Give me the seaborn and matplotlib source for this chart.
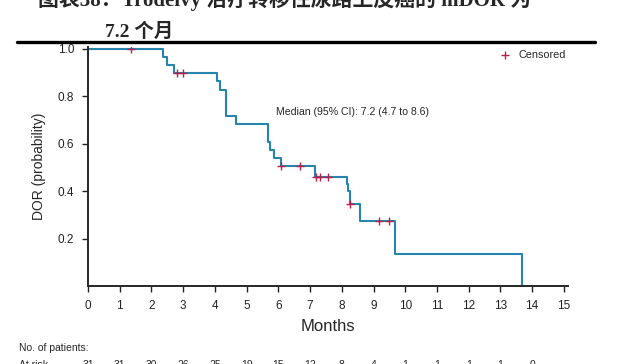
import numpy as np
import pandas as pd
import seaborn as sns
import matplotlib.pyplot as plt
from matplotlib.transforms import blended_transform_factory

# Kaplan-Meier curve (step points, steps-post)
km_time = [0.0, 2.37, 2.49, 2.70, 4.07, 4.15, 4.36, 4.67, 5.67, 5.74, 5.86,
           6.09, 7.17, 8.17, 8.20, 8.27, 8.58, 9.69, 13.67]
km_surv = [1.0, 0.965, 0.932, 0.900, 0.865, 0.828, 0.718, 0.683, 0.610, 0.575, 0.540,
           0.505, 0.462, 0.430, 0.400, 0.346, 0.276, 0.138, 0.0]

# censored observations
cens_time = [1.37, 2.79, 2.98, 6.09, 6.69, 7.20, 7.30, 7.58, 8.27, 9.17, 9.48]
cens_surv = [1.0, 0.900, 0.900, 0.505, 0.505, 0.462, 0.462, 0.462, 0.346, 0.276, 0.276]

months = list(range(0, 16))
at_risk = [31, 31, 30, 26, 25, 19, 15, 12, 8, 4, 1, 1, 1, 1, 0]

title_line1 = "图表38：Trodelvy 治疗转移性尿路上皮癌的 mDOR 为"
title_line2 = "7.2 个月"
median_text = "Median (95% CI): 7.2 (4.7 to 8.6)"

sns.set_style("ticks")
plt.rcParams["font.family"] = ["Liberation Sans", "DejaVu Sans"]

curve_color = "#2684ad"
cens_color = "#b5224a"

fig = plt.figure(figsize=(6.4, 3.64), dpi=100)
ax = fig.add_axes([0.1375, 0.213, 0.75, 0.658])

km = pd.DataFrame({"time": km_time, "surv": km_surv})
sns.lineplot(data=km, x="time", y="surv", drawstyle="steps-post",
             color=curve_color, linewidth=1.5, ax=ax)
cens = pd.DataFrame({"time": cens_time, "surv": cens_surv})
sns.scatterplot(data=cens, x="time", y="surv", marker="+", s=30,
                color=cens_color, linewidth=1.0, label="Censored", ax=ax, zorder=5)

ax.set_xlim(0, 15.13)
ax.set_ylim(0, 1.008)
ax.set_xticks(months)
ax.set_yticks([0.2, 0.4, 0.6, 0.8, 1.0])
ax.set_yticklabels(["0.2", "0.4", "0.6", "0.8", "1.0"])
ax.tick_params(labelsize=8.5, length=4, width=1, direction="out", pad=6,
               colors="#222222")
for side in ["left", "bottom"]:
    ax.spines[side].set_linewidth(1.4)
sns.despine(ax=ax)

ax.set_xlabel("Months", fontsize=12, labelpad=5)
ax.set_ylabel("DOR (probability)", fontsize=10, labelpad=8)

# median annotation
ax.text(5.94, 0.735, median_text, fontsize=7.6, ha="left", va="center")

leg = ax.legend(loc="upper right", bbox_to_anchor=(1.015, 1.03), frameon=False,
                fontsize=7.8, handletextpad=0.2, markerscale=1.0)

# number at risk table
fig.text(0.03, 0.045, "No. of patients:", fontsize=7.5, va="center")
fig.text(0.03, -0.002, "At risk", fontsize=7.5, va="center")
trans = blended_transform_factory(ax.transData, fig.transFigure)
for m, n in zip(months, at_risk):
    ax.text(m, -0.002, str(n), fontsize=7.5, ha="center", va="center", transform=trans)

# title block (top line partly cut off in the source)
title_font = ["Liberation Serif", "Noto Sans CJK SC"]
fig.text(0.06, 0.983, title_line1, fontsize=15, fontweight="bold",
         family=title_font, va="baseline")
fig.text(0.164, 0.898, title_line2, fontsize=14, fontweight="bold",
         family=title_font, va="baseline")
fig.add_artist(plt.Line2D([0.027, 0.93], [0.885, 0.885], color="black",
                          linewidth=2.4, transform=fig.transFigure))

fig.savefig("out.png", dpi=100)
